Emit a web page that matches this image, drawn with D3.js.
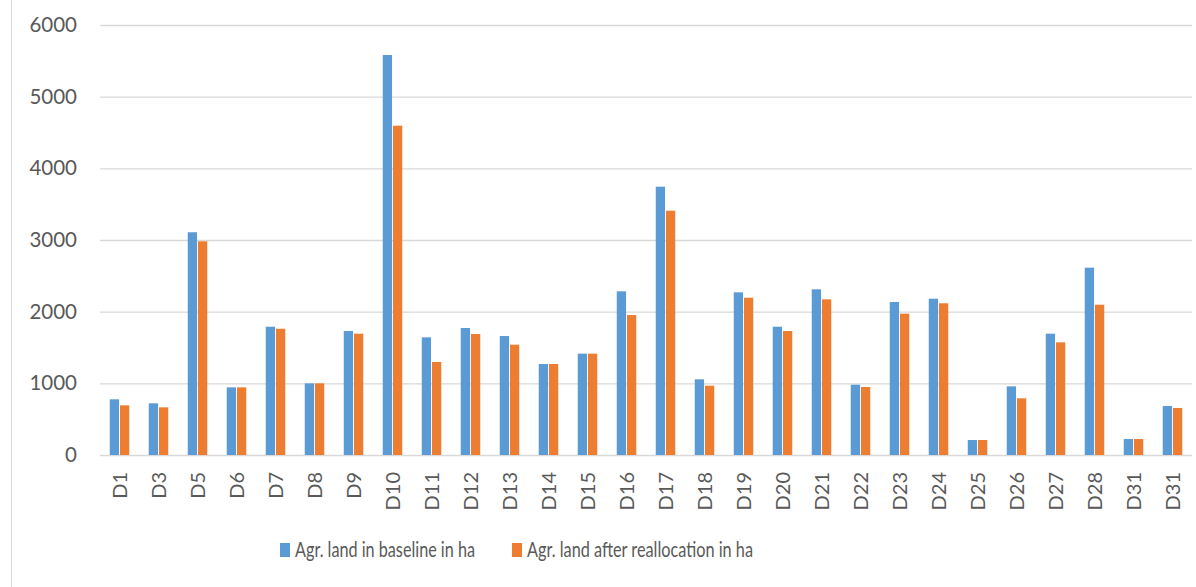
<!DOCTYPE html>
<html>
<head>
<meta charset="utf-8">
<script src="https://cdn.jsdelivr.net/npm/d3@7"></script>
<style>
    body { margin: 0; background: #fff; }
    text { font-family: Lato, "Open Sans", sans-serif; fill: #595959; }
</style>
</head>
<body>
<div id="chart"></div>
<script>
// Chart data
const districts = ['D1', 'D3', 'D5', 'D6', 'D7', 'D8', 'D9', 'D10', 'D11', 'D12', 'D13', 'D14', 'D15', 'D16',
    'D17', 'D18', 'D19', 'D20', 'D21', 'D22', 'D23', 'D24', 'D25', 'D26', 'D27', 'D28', 'D31', 'D31'];
const baseline = [777, 721, 3108, 944, 1790, 1000, 1730, 5581, 1642, 1772, 1660, 1270, 1414, 2284,
    3744, 1056, 2270, 1790, 2312, 981, 2135, 2181, 209, 958, 1693, 2614, 223, 684];
const reallocation = [693, 665, 2982, 944, 1762, 1000, 1693, 4595, 1298, 1688, 1539, 1270, 1414, 1953,
    3409, 967, 2195, 1730, 2172, 949, 1972, 2117, 209, 791, 1572, 2097, 223, 656];
const yTicks = [0, 1000, 2000, 3000, 4000, 5000, 6000];
const seriesNames = ['Agr. land in baseline in ha', 'Agr. land after reallocation in ha'];
const colors = ['#5B9BD5', '#ED7D31'];

const width = 1196, height = 587;
const plot = {left: 100, right: 1192, top: 25, bottom: 455};

let svg = d3.select('#chart').append('svg')
    .attr('width', width)
    .attr('height', height);

// chart area border (left edge visible)
svg.append('line')
    .attr('x1', 11.5).attr('x2', 11.5)
    .attr('y1', 0).attr('y2', height)
    .attr('stroke', '#d9d9d9')
    .attr('stroke-width', 1);

// Scales
let x0 = d3.scaleBand()
    .domain(d3.range(districts.length))
    .range([plot.left, plot.right])
    .paddingInner(0.5)
    .paddingOuter(0.25);

let x1 = d3.scaleBand()
    .domain([0, 1])
    .range([0, x0.bandwidth()])
    .paddingInner(0.09);

let y = d3.scaleLinear()
    .domain([0, 6000])
    .range([plot.bottom, plot.top]);

// Gridlines + y labels
let yAxis = d3.axisLeft(y)
    .tickValues(yTicks)
    .tickSize(-(plot.right - plot.left))
    .tickPadding(23)
    .tickFormat(d3.format('d'));

svg.append('g')
    .attr('class', 'y-axis')
    .attr('transform', `translate(${plot.left},0)`)
    .call(yAxis)
    .call(g => g.select('.domain').remove())
    .call(g => g.selectAll('.tick line').attr('stroke', '#d9d9d9').attr('stroke-width', 1.3))
    .call(g => g.selectAll('.tick text').style('font-size', '20.5px').attr('fill', '#595959'));

// Bars
let rows = districts.map((d, i) => ({i: i, values: [baseline[i], reallocation[i]]}));

let groups = svg.append('g').selectAll('g')
    .data(rows)
    .join('g')
    .attr('transform', d => `translate(${x0(d.i)},0)`);

groups.selectAll('rect')
    .data(d => d.values.map((v, k) => ({k: k, v: v})))
    .join('rect')
    .attr('x', d => x1(d.k))
    .attr('y', d => y(d.v))
    .attr('width', x1.bandwidth())
    .attr('height', d => y(0) - y(d.v))
    .attr('fill', d => colors[d.k]);

// x axis labels (rotated)
let xAxis = d3.axisBottom(x0)
    .tickSize(0)
    .tickPadding(0)
    .tickFormat(i => districts[i]);

svg.append('g')
    .attr('class', 'x-axis')
    .attr('transform', `translate(0,${plot.bottom})`)
    .call(xAxis)
    .call(g => g.select('.domain').remove())
    .call(g => g.selectAll('.tick text')
        .style('font-size', '20px')
        .attr('fill', '#595959')
        .attr('text-anchor', 'end')
        .attr('transform', 'translate(0,17) rotate(-90)')
        .attr('x', 0)
        .attr('y', 0)
        .attr('dy', '0.36em'));

// Legend (text squeezed to the narrower width of the original font)
let legendItems = [
    {x: 280, name: seriesNames[0], color: colors[0], w: 180},
    {x: 512, name: seriesNames[1], color: colors[1], w: 226}
];

let legend = svg.append('g').attr('class', 'legend');
legend.selectAll('rect')
    .data(legendItems)
    .join('rect')
    .attr('x', d => d.x)
    .attr('y', 543)
    .attr('width', 10)
    .attr('height', 14)
    .attr('fill', d => d.color);

legend.selectAll('text')
    .data(legendItems)
    .join('text')
    .attr('x', d => d.x + 15)
    .attr('y', 550)
    .attr('dy', '0.36em')
    .attr('textLength', d => d.w)
    .attr('lengthAdjust', 'spacingAndGlyphs')
    .style('font-size', '20.5px')
    .text(d => d.name);
</script>
</body>
</html>
